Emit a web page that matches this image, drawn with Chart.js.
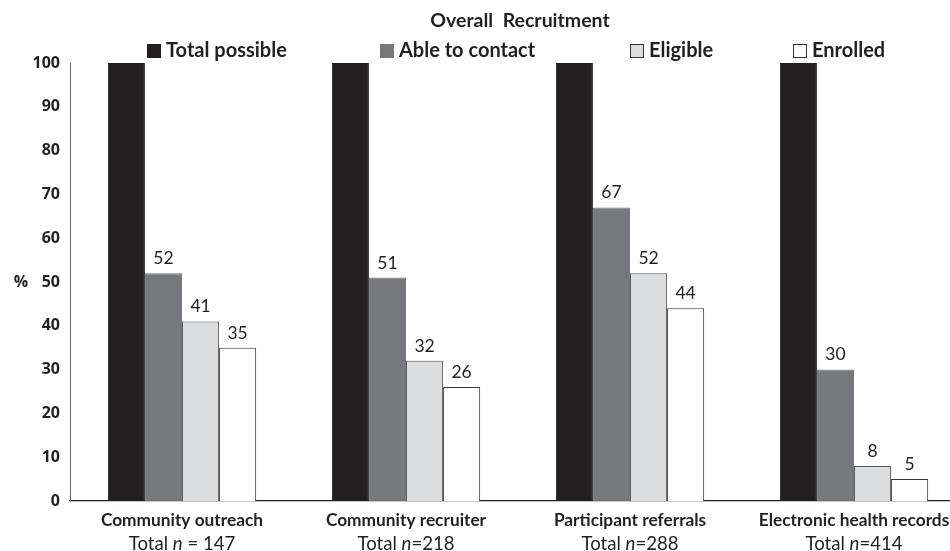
<!DOCTYPE html>
<html>
<head>
<meta charset="utf-8">
<script src="https://cdn.jsdelivr.net/npm/chart.js@4.4.0/dist/chart.umd.min.js"></script>
<style>
html,body{margin:0;padding:0;background:#fff;overflow:hidden;width:950px;height:551px;}
#wrap{width:950px;height:551px;overflow:hidden;position:relative;}
canvas{display:block;}
</style>
</head>
<body>
<div id="wrap"><canvas id="c" width="1036" height="551"></canvas></div>
<script>
const categories = ['Community outreach', 'Community recruiter', 'Participant referrals', 'Electronic health records'];
const totalN = ['147', '218', '288', '414'];
const nSeparators = [' = ', '=', '=', '='];
const seriesNames = ['Total possible', 'Able to contact', 'Eligible', 'Enrolled'];
const totalPossible = [100, 100, 100, 100];
const ableToContact = [52, 51, 67, 30];
const eligible = [41, 32, 52, 8];
const enrolled = [35, 26, 44, 5];
const yTicks = [0, 10, 20, 30, 40, 50, 60, 70, 80, 90, 100];
const chartTitle = 'Overall  Recruitment';
const yAxisLabel = '%';

const fills = ['#231f20', '#77787b', '#dcdddf', '#ffffff'];
const borders = ['#231f20', '#77787b', '#5a5a5a', '#3a3a3a'];
const seriesValues = [totalPossible, ableToContact, eligible, enrolled];

const overlay = {
  id: 'overlay',
  afterDatasetsDraw(chart) {
    const ctx = chart.ctx;
    const ys = chart.scales.y, xs = chart.scales.x;
    ctx.save();
    // title
    ctx.fillStyle = '#231f20';
    ctx.font = 'bold 19.5px Lato';
    ctx.textAlign = 'center';
    ctx.textBaseline = 'middle';
    ctx.fillText(chartTitle, 520, 21);
    // legend
    const legendX = [147, 380, 630, 793];
    ctx.font = 'bold 20px Lato';
    ctx.textAlign = 'left';
    chart.data.datasets.forEach((ds, i) => {
      const x = legendX[i];
      ctx.fillStyle = ds.backgroundColor;
      ctx.fillRect(x, 44, 14, 14);
      if (i >= 2) {
        ctx.strokeStyle = '#333';
        ctx.lineWidth = 1;
        ctx.strokeRect(x + 0.5, 44.5, 13, 13);
      }
      ctx.fillStyle = '#231f20';
      ctx.fillText(ds.label, x + 19, 51);
    });
    // data labels
    ctx.font = '17.5px Lato';
    ctx.textAlign = 'center';
    ctx.textBaseline = 'bottom';
    ctx.fillStyle = '#231f20';
    chart.data.datasets.forEach((ds, i) => {
      if (i === 0) return;
      chart.getDatasetMeta(i).data.forEach((bar, j) => {
        ctx.fillText(String(ds.data[j]), bar.x, bar.y - 6);
      });
    });
    // y axis label
    ctx.font = 'bold 16px "Open Sans"';
    ctx.textBaseline = 'middle';
    ctx.fillText(yAxisLabel, 21, ys.getPixelForValue(50));
    // category labels
    categories.forEach((c, j) => {
      const cx = xs.getPixelForValue(j);
      ctx.textAlign = 'center';
      ctx.textBaseline = 'middle';
      ctx.font = 'bold 17.3px Lato';
      ctx.fillText(c, cx, 520);
      const pre = 'Total ', n = 'n', post = nSeparators[j] + totalN[j];
      ctx.font = '18.6px Lato';
      const w1 = ctx.measureText(pre).width, w3 = ctx.measureText(post).width;
      ctx.font = 'italic 18.6px Lato';
      const w2 = ctx.measureText(n).width;
      let x = cx - (w1 + w2 + w3) / 2;
      ctx.textAlign = 'left';
      ctx.font = '18.6px Lato';
      ctx.fillText(pre, x, 544);
      ctx.font = 'italic 18.6px Lato';
      ctx.fillText(n, x + w1, 544);
      ctx.font = '18.6px Lato';
      ctx.fillText(post, x + w1 + w2, 544);
    });
    ctx.restore();
  }
};

new Chart(document.getElementById('c'), {
  type: 'bar',
  data: {
    labels: categories,
    datasets: seriesNames.map((name, i) => ({
      label: name,
      data: seriesValues[i],
      backgroundColor: fills[i],
      borderColor: borders[i],
      borderWidth: 1,
      borderSkipped: 'bottom',
      barPercentage: 1,
      categoryPercentage: 0.662
    }))
  },
  options: {
    responsive: false,
    animation: false,
    devicePixelRatio: 1,
    layout: { padding: { top: 63, bottom: 50, left: 0, right: 70 } },
    plugins: { legend: { display: false }, title: { display: false }, tooltip: { enabled: false } },
    scales: {
      x: {
        grid: { display: false, drawTicks: false },
        border: { display: true, color: '#231f20', width: 1.3 },
        ticks: { display: false },
        afterFit(s) { s.height = 0; }
      },
      y: {
        min: 0, max: 100,
        afterBuildTicks(s) { s.ticks = yTicks.map(v => ({ value: v })); },
        grid: { display: false, drawTicks: false },
        border: { display: true, color: '#666', width: 1 },
        ticks: {
          padding: 10,
          color: '#231f20',
          font: { family: 'Open Sans', weight: 'bold', size: 16 }
        },
        afterFit(s) { s.width = 70; }
      }
    }
  },
  plugins: [overlay]
});
</script>
</body>
</html>
